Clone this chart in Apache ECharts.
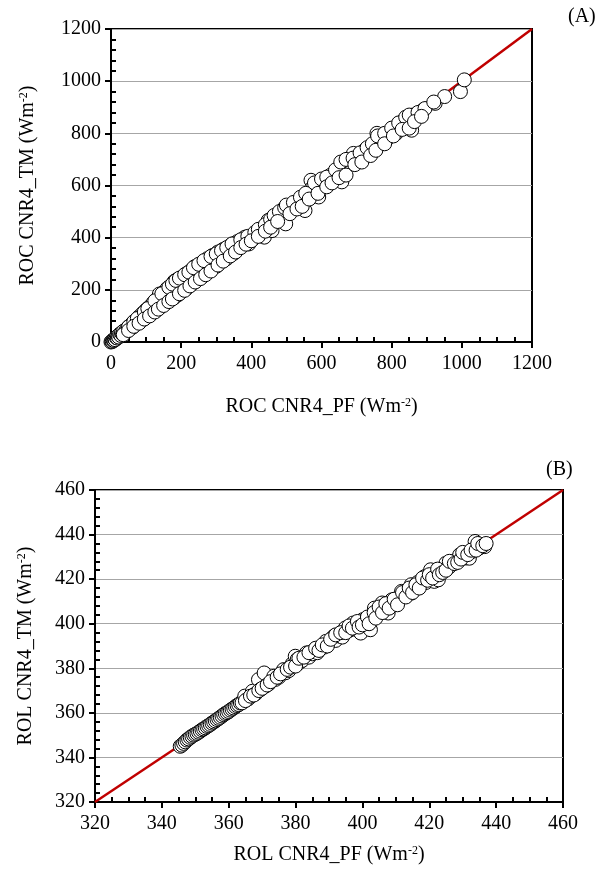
<!DOCTYPE html>
<html><head><meta charset="utf-8">
<script src="https://cdn.jsdelivr.net/npm/echarts@6/dist/echarts.min.js"></script>
<style>html,body{margin:0;padding:0;background:#fff}#c{width:608px;height:873px}</style>
</head><body><div id="c"></div>
<script>
// Panel A: ROC CNR4_PF (x) vs CNR4_TM (y)
var rocPF = [0,2,4,6,8,10,12,15,18,20,22,25,28,30,33,36,40,45,48,52,55,60,62,
  70,80,90,100,110,120,130,138,150,160,170,180,190,205,215,227,240,260,275,290,305,320,340,360,380,
  70,85,100,115,127,140,155,171,180,190,200,215,230,249,260,275,293,300,315,330,348,350,365,382,393,405,415,426,437,448,459,470,481,490,498,503,515,525,535,548,553,560,570,570,575,585,592,603,610,625,635,647,658,658,665,680,691,702,712,724,735,747,758,765,774,785,800,813,825,835,846,857,860,870,879,890,924,951,996,1007,
  50,65,75,95,105,125,145,165,175,185,195,210,222,235,250,265,285,300,315,330,345,370,390,410,420,440,455,465,480,495,500,520,540,555,580,600,615,640,655,670,690,710,730,745,760,780,800,820,840,850,875,895,920,
  35,50,65,80,95,110,125,135,150,165,175,195,210,225,240,255,270,285,305,320,340,355,370,385,400,420,440,455,475,510,530,545,565,590,615,630,650,670,695,715,740,755,780,805,830,850,865,885];
var rocTM = [0,3,2,7,6,12,9,17,15,24,19,30,25,35,30,42,38,50,44,60,52,70,57,
  82,97,110,123,135,150,163,184,190,205,215,232,240,250,262,273,290,305,320,332,345,355,370,385,398,
  68,80,95,108,132,133,148,171,170,180,192,205,222,248,250,268,299,290,325,320,376,340,360,402,376,395,420,415,402,466,427,479,492,470,453,504,510,517,530,543,504,560,620,569,594,580,556,614,600,639,630,646,614,684,660,690,723,697,700,736,720,748,800,770,787,775,805,800,830,851,825,812,870,860,870,890,915,941,960,1005,
  58,78,90,115,128,158,185,210,222,236,245,258,268,285,298,312,328,338,350,362,376,392,405,420,432,450,470,485,500,515,525,535,555,570,610,625,632,660,690,700,705,725,745,760,790,800,820,840,862,870,880,895,920,
  28,44,60,72,88,100,115,126,140,155,165,185,198,215,230,243,258,272,295,310,330,345,362,375,388,405,425,440,462,492,510,520,548,570,595,610,630,640,680,690,715,735,760,790,815,820,845,865];
// Panel B: ROL CNR4_PF (x) vs CNR4_TM (y)
var rolPF = [345.5,346,346.5,347,347.5,348,348.5,349,349.5,350,350.5,351,351.5,352,352.5,353,353.5,354,354.5,355,355.5,356,356.5,357,357.5,358,358.5,359,359.5,360,360.5,361,361.5,362,362.5,363,363.5,364,364.8,365.5,366,367.1,368,368.9,369.5,370.6,371,372,373.5,374,375,376.4,377,378,379,379.9,380.5,381,382,383.3,384,385,385.7,386.5,387.5,388.5,389.1,390,391.4,392,393,394,394.9,396,397.2,398,399.5,400.1,401,402.4,403,403.6,404.5,405.9,407,407.7,408.8,410,411,411.7,412.5,413.5,414.6,414.6,415.5,416.5,417.5,418.7,419,420.4,421.5,422,422.7,423.5,425,426,427,428,429.1,430.8,431,432,433,433.7,435,436.6,
  365,366.5,367.5,369,370,371.5,372.5,374.5,375.5,377.5,378.5,380,381,382.5,384,386,387,388,389.5,390.5,392,393.5,395,396,397,398.5,399,400,401.5,402,403.5,404,405,406,407,408,409.5,410.5,412,413,414,415,416,417,418,419.5,420,421,422.5,423,424,425,426,427.5,428.5,429.5,430,431.5,432.5,434,434.5,436,437];
var rolTM = [345,345.5,346.3,347,347.8,348.3,349,349.5,350,350.4,350.8,351.3,351.8,352.4,352.8,353.3,353.9,354.3,354.8,355.4,355.9,356.4,357,357.5,358,358.6,359.2,359.7,360.1,360.6,361.2,361.7,362.2,362.8,363.3,363.7,364.4,364.5,367.5,366,366.5,369.7,368.5,374.9,370.5,377.9,372,373,376.4,375,376,379.4,378,379,382,385.4,384,382.4,383.5,386.9,385,386.5,388.4,387,389,389.5,392.1,391.5,394.3,392.5,394.5,394,398.1,397,400.3,397.5,395.8,401.8,402,397.3,403.5,407,405,409.3,406.5,404.8,410.7,410,412,414.5,412.5,413.5,417.5,413.7,415.5,418.5,418,421.2,418.5,424.2,419,421.5,419.7,424,427.2,425.5,427,428.5,430.9,431.6,429.5,429.4,432.5,436.9,434,434.6,
  365.5,367.5,368,370,371,372.5,374,376,377.5,379.5,380.5,381,384.5,385,387,389,388,390.5,390,393,395,396,396,399,398,401,398.5,399.5,403,400,405,402.5,407.5,405,409,407,411,408.5,414,412,416,414,417.5,416,420.5,419.5,422,420.5,424.5,422,423,424,428,427,427.5,429,432,431,433,433,436,435,436];
var lineA = [[0,0],[1200,1200]];
var lineB = [[320,320],[460,460]];

function zip(a,b){return a.map(function(v,i){return [v,b[i]];});}
var serif = '"Liberation Serif","Times New Roman",serif';
var rich = {sup:{fontSize:12,verticalAlign:'top',lineHeight:12,padding:[0,0,10,0],fontFamily:serif,color:'#000'}};
function plain(v){return String(v);}
function xAx(gi,min,max,itv,name,gap){return {gridIndex:gi,type:'value',min:min,max:max,interval:itv,
  name:name,nameLocation:'middle',nameGap:gap,nameTextStyle:{fontFamily:serif,fontSize:20,color:'#000',rich:rich},
  axisLine:{lineStyle:{color:'#000',width:2}},axisTick:{show:true,inside:false,length:6,lineStyle:{color:'#000',width:2}},
  minorTick:{show:true,splitNumber:4,length:-5,lineStyle:{color:'#000',width:2}},
  axisLabel:{fontFamily:serif,fontSize:20,color:'#000',margin:12,formatter:plain},splitLine:{show:false}};}
function yAx(gi,min,max,itv,name,gap){return {gridIndex:gi,type:'value',min:min,max:max,interval:itv,
  name:name,nameLocation:'middle',nameGap:gap,nameTextStyle:{fontFamily:serif,fontSize:20,color:'#000',rich:rich},
  axisLine:{lineStyle:{color:'#000',width:2}},axisTick:{show:true,inside:false,length:6,lineStyle:{color:'#000',width:2}},
  minorTick:{show:true,splitNumber:5,length:-5,lineStyle:{color:'#000',width:2}},
  axisLabel:{fontFamily:serif,fontSize:20,color:'#000',margin:10,formatter:plain},splitLine:{show:true,lineStyle:{color:'#a6a6a6',width:1}}};}
var sc = function(xi,data,size){return {type:'scatter',xAxisIndex:xi,yAxisIndex:xi,data:data,symbolSize:size,z:3,
  itemStyle:{color:'#fff',borderColor:'#000',borderWidth:1,opacity:1},silent:true};};
var ln = function(xi,data){return {type:'line',xAxisIndex:xi,yAxisIndex:xi,data:data,symbol:'none',z:2,
  lineStyle:{color:'#c00000',width:2.5},silent:true};};
var chart = echarts.init(document.getElementById('c'),null,{renderer:'canvas'});
chart.setOption({
  animation:false,
  grid:[{left:111,top:29,width:421,height:313,show:true,borderColor:'#000',borderWidth:2,backgroundColor:'transparent'},
        {left:95,top:490,width:468,height:312,show:true,borderColor:'#000',borderWidth:2,backgroundColor:'transparent'}],
  xAxis:[xAx(0,0,1200,200,'ROC CNR4_PF (Wm{sup|-2})',55),xAx(1,320,460,20,'ROL CNR4_PF (Wm{sup|-2})',43)],
  yAxis:[yAx(0,0,1200,200,'ROC CNR4_TM (Wm{sup|-2})',73),yAx(1,320,460,20,'ROL CNR4_TM (Wm{sup|-2})',59)],
  graphic:[{type:'text',left:568,top:7,style:{text:'(A)',font:'20px '+serif,fill:'#000'}},
           {type:'text',left:546,top:460,style:{text:'(B)',font:'20px '+serif,fill:'#000'}}],
  series:[ln(0,lineA),sc(0,zip(rocPF,rocTM),14),ln(1,lineB),sc(1,zip(rolPF,rolTM),14)]
});
</script></body></html>
